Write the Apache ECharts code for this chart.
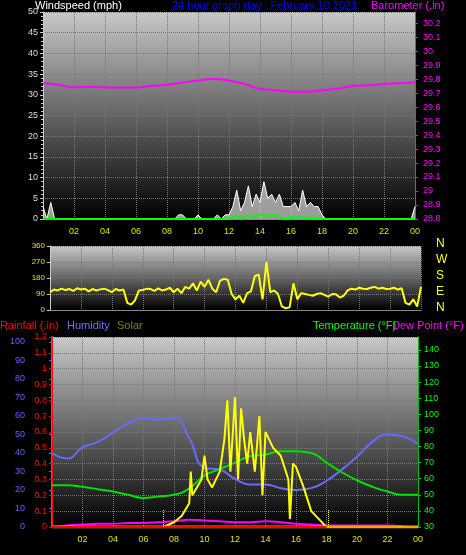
<!DOCTYPE html>
<html><head><meta charset="utf-8">
<script src="https://cdn.jsdelivr.net/npm/echarts@6/dist/echarts.min.js"></script>
<style>html,body{margin:0;background:#000}#c{width:466px;height:555px}</style>
</head><body><div id="c"></div>
<script>
// 15-minute wind speed (mph), 0h..24h
const windGust = [3,0,4,0, 0,0,0,0, 0,0,0,0, 0,0,0,0, 0,0,0,0, 0,0,0,0, 0,0,0,0, 0,0,0,0,
  0,0,0,1, 1,0,0,0, 1,0,0,0, 0,1,0,1, 1,3,7,2, 4,8,3,6, 4,9,5,6, 4,6,3,3, 3,4,2,7, 3,4,3,3, 1,0,0,0,
  0,0,0,0, 0,0,0,0, 0,0,0,0, 0,0,0,0, 0,0,0,0, 3];
const windAvg = [0,0,0.5,0, 0,0,0,0, 0,0,0,0, 0,0,0,0, 0,0,0,0, 0,0,0,0, 0,0,0,0, 0,0,0,0,
  0,0,0,0, 0,0,0,0, 0,0,0,0, 0,0,0,0, 0,0.5,0.5,0, 0.5,1,0.5,0.5, 1,1,0.5,1, 1,0.5,0,0, 0.5,0,0.5,0.5, 0,0.5,0,0, 0,0,0,0,
  0,0,0,0, 0,0,0,0, 0,0,0,0, 0,0,0,0, 0,0,0,0, 0];
// hourly barometer (inHg)
const baro = [29.77,29.76,29.74,29.745,29.74,29.74,29.74,29.75,29.76,29.775,29.79,29.80,29.79,29.765,
  29.73,29.72,29.71,29.71,29.72,29.73,29.75,29.755,29.765,29.77,29.775];
// 15-minute wind direction (deg)
const windDir = [100,115,110,120, 112,118,108,122, 115,120,105,118, 110,116,120,112, 100,118,110,115,
  40,30,55,110, 112,120,118,108, 122,110,115,125, 100,120,95,130, 120,150,110,160, 130,170,120,100,
  165,175,170,90, 60,80,40,95, 105,190,200,60, 270,100,110,90, 20,10,15,150, 60,95,90,85,
  80,90,95,85, 75,90,88,70, 80,110,120,115, 125,120,118,125, 130,120,125,118, 120,125,115,122,
  40,30,60,20, 130];
// hourly humidity (%)
const humidity = [40,37,43,46,51,56,59,58,59,48,32,31,26,23,23,21,20,21,25,31,38,46,50,49,45];
// hourly temperature and dew point (°F)
const temperature = [56,56,55,53.5,52,50,48,49,50,54,62,66,70,74,75,77,77,76,70,64,59,55,52,50,50];
const dewPoint = [30,31,31.5,32,32,32.5,32.5,33,33.5,34.5,34,33.5,33,33,33.5,33,32,31.5,31,31,31,31,31,30.5,29];
// solar (plotted on rain scale), hour -> value
const solarHours = [0,7.3,8,8.5,9,9.1,9.2,9.5,9.8,10,10.2,10.5,11,11.3,11.5,11.7,12,12.2,12.4,12.6,12.8,13,13.3,13.6,13.8,14,14.5,15,15.5,15.6,15.8,16,16.5,17,17.5,18,24];
const solarVals = [0,0,0.03,0.07,0.15,0.35,0.2,0.25,0.3,0.45,0.3,0.25,0.35,0.55,0.8,0.35,0.82,0.3,0.75,0.55,0.4,0.6,0.35,0.7,0.2,0.6,0.5,0.45,0.3,0.05,0.4,0.38,0.25,0.1,0.05,0,0];
const rainfall = [0,0,0,0,0,0,0,0,0,0,0,0,0,0,0,0,0,0,0,0,0,0,0,0,0];
const compass = ['N','W','S','E','N'];

const q = a => a.map((v, i) => [i / 4, v]);
const h = a => a.map((v, i) => [i, v]);
const bg = {type:'linear',x:0,y:0,x2:0,y2:1,colorStops:[{offset:0,color:'#c8c8c8'},{offset:1,color:'#000'}]};
const font = 'Liberation Sans';
const gridLine = {show:true,lineStyle:{color:'#777',type:'dotted'}};
const xAx = (gi, show) => ({type:'value',gridIndex:gi,min:0,max:24,interval:2,
  axisLine:{lineStyle:{color:'#888'}},axisTick:{show:false},splitLine:gridLine,
  axisLabel:{show:show,color:'#e0e000',fontSize:9,fontFamily:font,showMinLabel:false,
    formatter:v=>String(v%24).padStart(2,'0')}});
const txt = (x, y, s, c) => ({type:'text',left:x,top:y,style:{text:s,fill:c,font:'11px '+font}});

const chart = echarts.init(document.getElementById('c'));
chart.setOption({
  backgroundColor:'#000',
  animation:false,
  grid:[
    {left:43,right:51,top:12,height:207,show:true,backgroundColor:bg,borderWidth:0},
    {left:50,right:45,top:246,height:64,show:true,backgroundColor:bg,borderWidth:0},
    {left:52,right:48,top:337,height:190,show:true,backgroundColor:bg,borderWidth:0}
  ],
  graphic:[
    txt(35,0,'Windspeed (mph)','#fff'),
    txt(172,0,'24 hour graph day : February 10 2021','#0000ff'),
    txt(371,0,'Barometer (.in)','#ff00ff'),
    txt(0,320,'Rainfall (.in)','#ff0000'),
    txt(67,320,'Humidity','#7070ff'),
    txt(117,320,'Solar','#808020'),
    txt(313,320,'Temperature (°F)','#00ff00'),
    txt(392,320,'Dew Point (°F)','#ff00ff'),
    ...compass.map((c,i)=>({type:'text',left:436,top:238+i*16,style:{text:c,fill:'#ffff00',font:'12px '+font}}))
  ],
  xAxis:[xAx(0,true),xAx(1,false),xAx(2,true)],
  yAxis:[
    {type:'value',gridIndex:0,position:'left',min:0,max:50,interval:5,axisLine:{show:true,lineStyle:{color:'#ccc'}},
      axisTick:{show:true,length:3},minorTick:{show:true,splitNumber:5,length:2},splitLine:gridLine,
      axisLabel:{color:'#ddd',fontSize:9,fontFamily:font,margin:5}},
    {type:'value',gridIndex:0,position:'right',min:28.8,max:30.279,interval:0.1,
      axisLine:{show:true,lineStyle:{color:'#ff00ff'}},axisTick:{show:true,length:3},splitLine:{show:false},
      axisLabel:{color:'#ff00ff',fontSize:9,fontFamily:font,showMaxLabel:false,formatter:v=>String(+v.toFixed(1))}},
    {type:'value',gridIndex:1,position:'left',min:0,max:360,interval:90,axisLine:{show:true,lineStyle:{color:'#ccc'}},
      axisTick:{show:true,length:3},splitLine:gridLine,
      axisLabel:{color:'#e0e000',fontSize:8,fontFamily:font,margin:5}},
    {type:'value',gridIndex:2,position:'left',min:0,max:102.7,interval:10,offset:22,
      axisLine:{show:true,lineStyle:{color:'#6060ff',width:2}},axisTick:{show:true,length:3},splitLine:{show:false},
      axisLabel:{color:'#6060ff',fontSize:9,fontFamily:font,showMaxLabel:false,margin:5}},
    {type:'value',gridIndex:2,position:'left',min:0,max:1.2,interval:0.1,
      axisLine:{show:true,lineStyle:{color:'#ff0000',type:'dotted'}},axisTick:{show:true,length:3},splitLine:gridLine,
      axisLabel:{color:'#ff0000',fontSize:9,fontFamily:font,margin:5,formatter:v=>String(+v.toFixed(1))}},
    {type:'value',gridIndex:2,position:'right',min:30,max:148,interval:10,
      axisLine:{show:true,lineStyle:{color:'#00c000'}},axisTick:{show:true,length:3},splitLine:{show:false},
      axisLabel:{color:'#00ff00',fontSize:9,fontFamily:font,showMaxLabel:false,margin:6}}
  ],
  series:[
    {type:'line',xAxisIndex:0,yAxisIndex:0,data:q(windGust),symbol:'none',
      lineStyle:{color:'#fff',width:1},areaStyle:{color:'#ddd',opacity:0.7}},
    {type:'line',xAxisIndex:0,yAxisIndex:0,data:q(windAvg),symbol:'none',lineStyle:{color:'#00ff00',width:2}},
    {type:'line',xAxisIndex:0,yAxisIndex:1,data:h(baro),smooth:true,symbol:'none',lineStyle:{color:'#ff00ff',width:2}},
    {type:'line',xAxisIndex:1,yAxisIndex:2,data:q(windDir),symbol:'none',lineStyle:{color:'#ffff00',width:2}},
    {type:'line',xAxisIndex:2,yAxisIndex:3,data:h(humidity),smooth:true,symbol:'none',lineStyle:{color:'#6a6aff',width:2}},
    {type:'line',xAxisIndex:2,yAxisIndex:5,data:h(temperature),smooth:true,symbol:'none',lineStyle:{color:'#00e000',width:2}},
    {type:'line',xAxisIndex:2,yAxisIndex:5,data:h(dewPoint),smooth:true,symbol:'none',lineStyle:{color:'#ff00ff',width:2}},
    {type:'line',xAxisIndex:2,yAxisIndex:4,data:solarHours.map((t,i)=>[t,solarVals[i]]),symbol:'none',
      lineStyle:{color:'#ffff00',width:2},
      markLine:{symbol:'none',silent:true,label:{show:false},lineStyle:{color:'#ffff00',type:'dotted',width:1},
        data:[[{coord:[7.3,0]},{coord:[7.3,0.11]}],[{coord:[18.1,0]},{coord:[18.1,0.11]}]]}},
    {type:'line',xAxisIndex:2,yAxisIndex:4,data:h(rainfall),symbol:'none',lineStyle:{color:'#ffa000',width:3}},
    {type:'line',xAxisIndex:2,yAxisIndex:4,data:h(rainfall).slice(0,19),symbol:'none',lineStyle:{color:'#ff0000',width:2}}
  ]
});
</script></body></html>
